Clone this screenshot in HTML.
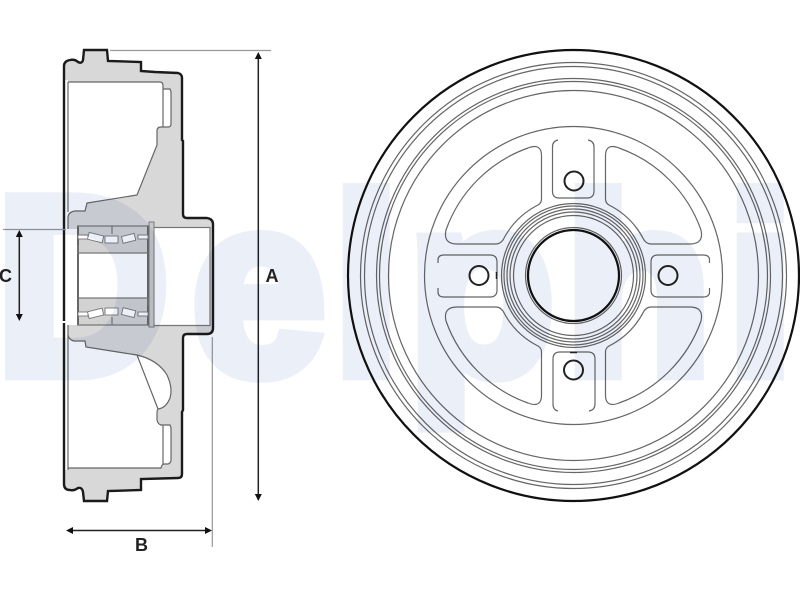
<!DOCTYPE html>
<html><head><meta charset="utf-8"><style>
html,body{margin:0;padding:0;background:#fff}
svg{display:block}
</style></head><body>
<svg width="800" height="600" viewBox="0 0 800 600" xmlns="http://www.w3.org/2000/svg">
<rect width="800" height="600" fill="#fff"/>

<!-- side section -->
<path d="M64 480V66Q64 61 70 60Q75 59 78 62Q82 64 83 60L84 50H107L108 61L141 62V71L155 72L178 73Q182 74 182 78V140L183 141V214Q183 218 187 218H207Q213 219 213 224V328Q213 334 207 334H187Q183 334 183 338V410L182 412V474Q182 478 178 478L141 479V490L108 491L107 501H84L83 492Q82 487 78 488Q74 491 70 490Q64 490 64 484Z" fill="#d8d8d8"/>
<!-- top cavity -->
<path d="M68 82H160Q163 82 163 86V89H170L171 92V124Q171 127 168 127H161Q157 127 157 131V145L137 195L87 203L85 211H75Q68 212 68 218V229H65V80H68Z" fill="#fff" stroke="none"/>
<path d="M68 82H160Q163 82 163 86V89H170L171 92V124Q171 127 168 127H161Q157 127 157 131V145L137 195L87 203L85 211H75Q68 212 68 218V229M163 89V127" fill="none" stroke="#666" stroke-width="1.2"/>
<!-- bottom cavity -->
<path d="M68 323V335Q69 340 74 341H85L86 347L137 355Q158 360 167 375Q173 388 170 398Q166 408 158 409Q157 410 157 414V420Q158 425 162 425H170L171 428V460Q171 463 168 464H164Q162 464 161 468H68ZM65 323H68V470H65Z" fill="#fff"/>
<path d="M68 323V335Q69 340 74 341H85L86 347L137 355Q158 360 167 375Q173 388 170 398Q166 408 158 409Q157 410 157 414V420Q158 425 162 425H170L171 428V460Q171 463 168 464H164Q162 464 161 468H68M137 355L158 409M163 425V464" fill="none" stroke="#666" stroke-width="1.2"/>
<path d="M68 229V323" stroke="#777" stroke-width="1.2" fill="none"/>
<path d="M68 82V212M68 335V470" stroke="#666" stroke-width="1.2" fill="none"/>
<!-- hub bore -->
<rect x="65" y="229" width="12" height="96" fill="#fff"/>
<rect x="150" y="228" width="60" height="98" fill="#fff"/>
<path d="M153 227.5H210V325.5H153" fill="none" stroke="#777" stroke-width="1.2"/>
<!-- bearing -->
<rect x="77" y="226" width="72" height="99" fill="#d2d2d2"/>
<rect x="79" y="253" width="68" height="45" fill="#fff"/>
<path d="M78 226V325M148 226V325" stroke="#666" stroke-width="2" fill="none"/>
<path d="M77 226H149M77 325H149M78 245V253H148M78 298H148V306M112 226V234M112 317V325" stroke="#777" stroke-width="1.2" fill="none"/>
<rect x="149" y="222" width="5" height="105" fill="#c8c8c8" stroke="#777" stroke-width="1"/>
<g fill="#fff" stroke="#777" stroke-width="0.9">
<rect x="78" y="235" width="10" height="4"/>
<rect x="138" y="235" width="10" height="4"/>
<rect x="88" y="234" width="15" height="7" transform="rotate(14 95 238)"/>
<rect x="105" y="236" width="13" height="7"/>
<rect x="122" y="235" width="13" height="7" transform="rotate(-14 128 238)"/>
<rect x="78" y="312" width="10" height="4"/>
<rect x="138" y="312" width="10" height="4"/>
<rect x="88" y="310" width="15" height="7" transform="rotate(-14 95 313)"/>
<rect x="105" y="308" width="13" height="7"/>
<rect x="122" y="309" width="13" height="7" transform="rotate(14 128 313)"/>
</g>
<!-- outline -->
<path d="M64 480V66Q64 61 70 60Q75 59 78 62Q82 64 83 60L84 50H107L108 61L141 62V71L155 72L178 73Q182 74 182 78V140L183 141V214Q183 218 187 218H207Q213 219 213 224V328Q213 334 207 334H187Q183 334 183 338V410L182 412V474Q182 478 178 478L141 479V490L108 491L107 501H84L83 492Q82 487 78 488Q74 491 70 490Q64 490 64 484Z" fill="none" stroke="#1a1a1a" stroke-width="2.4"/>
<path d="M62 322H70" stroke="#fff" stroke-width="2"/>

<!-- dimensions -->
<g stroke="#999" stroke-width="1.2" fill="none">
<path d="M110 50.5H271"/>
<path d="M3 229.5H66"/>
<path d="M212.3 337V547"/>
</g>
<g stroke="#222" stroke-width="1.5" fill="none">
<path d="M258.3 58V496"/>
<path d="M19.3 236V316"/>
<path d="M72 530.5H206"/>
</g>
<g fill="#111">
<path d="M258.3 52L261.8 59H254.8Z"/>
<path d="M258.3 501L254.8 494H261.8Z"/>
<path d="M19.3 230L22.8 237H15.8Z"/>
<path d="M19.3 321L15.8 314H22.8Z"/>
<path d="M66 530.5L73 527V534Z"/>
<path d="M212 530.5L205 527V534Z"/>
</g>
<g font-family="Liberation Sans, sans-serif" font-weight="700" font-size="18" fill="#222">
<text x="265.5" y="282">A</text>
<text x="135" y="551">B</text>
<text x="-1" y="282">C</text>
</g>

<!-- front view -->
<g fill="none" stroke="#666" stroke-width="1.2">
<circle cx="573.5" cy="275.5" r="213"/>
<circle cx="573.5" cy="275.5" r="209"/>
<circle cx="573.5" cy="275.5" r="197"/>
<circle cx="573.5" cy="275.5" r="194"/>
<circle cx="573.5" cy="275.5" r="185"/>
<circle cx="573.5" cy="275.5" r="149"/>
<circle cx="573.5" cy="275.5" r="72"/>
<circle cx="573.5" cy="275.5" r="69.5"/>
<circle cx="573.5" cy="275.5" r="66.5"/>
<circle cx="573.5" cy="275.5" r="63.5"/>
<circle cx="573.5" cy="275.5" r="60"/>
<circle cx="573.5" cy="275.5" r="48"/>
<path d="M541.5 155V199Q541.5 203 538 205A80 80 0 0 0 503 240Q500 244 496 244H457Q443 244 446 230A135 135 0 0 1 528 148Q541 143 541.5 155Z"/>
<path transform="translate(1147 0) scale(-1 1)" d="M541.5 155V199Q541.5 203 538 205A80 80 0 0 0 503 240Q500 244 496 244H457Q443 244 446 230A135 135 0 0 1 528 148Q541 143 541.5 155Z"/>
<path transform="translate(0 551) scale(1 -1)" d="M541.5 155V199Q541.5 203 538 205A80 80 0 0 0 503 240Q500 244 496 244H457Q443 244 446 230A135 135 0 0 1 528 148Q541 143 541.5 155Z"/>
<path transform="translate(1147 551) scale(-1 -1)" d="M541.5 155V199Q541.5 203 538 205A80 80 0 0 0 503 240Q500 244 496 244H457Q443 244 446 230A135 135 0 0 1 528 148Q541 143 541.5 155Z"/>
<!-- pads -->
<path d="M558 140Q552.5 141 552.5 147V191Q552.5 198 559 198H587Q594 198 594 191V147Q594 141 588 140"/>
<path d="M558 411Q553 410 553 404V359Q553 352 560 352H588Q595 352 595 359V404Q595 410 589 411"/>
<path d="M438 263V260Q438 255 444 255H490Q497 255 497 262V290Q497 297 490 297H444Q438 297 438 292V288"/>
<path d="M709.5 263V260Q709.5 255 703 255H658Q651 255 651 262V290Q651 297 658 297H703Q709.5 297 709.5 292V288"/>
</g>
<path d="M496.5 272V279M570 352.5H577" stroke="#222" stroke-width="1.5" fill="none"/>
<circle cx="573.5" cy="275.5" r="225.5" fill="none" stroke="#111" stroke-width="2.2"/>
<circle cx="573.5" cy="275.5" r="45.5" fill="none" stroke="#111" stroke-width="2.2"/>
<g fill="none" stroke="#222" stroke-width="2">
<circle cx="574" cy="181" r="9.5"/>
<circle cx="479" cy="275.5" r="9.5"/>
<circle cx="668" cy="275.5" r="9.5"/>
<circle cx="573.5" cy="370" r="9.5"/>
</g>

<!-- watermark -->
<text style="mix-blend-mode:multiply" transform="translate(0 373) scale(1 1.05)" x="-4 192 333 408 565 727" y="0" font-family="Liberation Sans, sans-serif" font-weight="700" font-size="240" fill="#ebeff7" stroke="#ebeff7" stroke-width="14">Delphi</text>
</svg>
</body></html>
